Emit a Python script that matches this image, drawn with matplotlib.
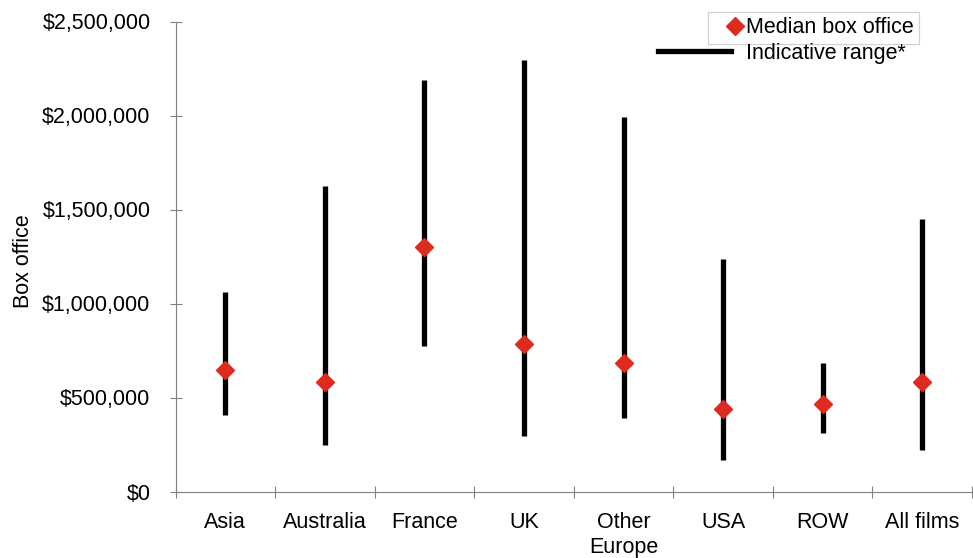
import matplotlib.pyplot as plt
from matplotlib.lines import Line2D

plt.rcParams["font.family"] = ["Liberation Sans", "DejaVu Sans"]

# Box office by region of origin
regions = ["Asia", "Australia", "France", "UK", "Other\nEurope", "USA", "ROW", "All films"]
range_low = [407000, 247000, 774000, 295000, 391000, 168000, 311000, 221000]
range_high = [1063000, 1625000, 2189000, 2295000, 1992000, 1237000, 683000, 1449000]
median = [646000, 582000, 1300000, 785000, 683000, 439000, 465000, 582000]

RED = "#DD2C1F"
AXIS_GREY = "#808080"
FS = 15.5

fig = plt.figure(figsize=(9.73, 5.58), dpi=100)
ax = fig.add_axes([175.5 / 973, 1 - 491.5 / 558, 796.5 / 973, 470 / 558])

x = list(range(len(regions)))
ax.vlines(x, range_low, range_high, color="black", linewidth=3.8, zorder=2)
ax.plot(x, median, linestyle="", marker="D", markersize=9.5,
        color=RED, markeredgecolor=RED, zorder=3)

ax.set_xlim(-0.5, len(regions) - 0.5)
ax.set_ylim(0, 2500000)
ax.set_yticks(range(0, 2500001, 500000))
ax.set_yticklabels(["${:,}".format(v) for v in range(0, 2500001, 500000)], fontsize=FS)

# category labels centred, ticks on the boundaries
ax.set_xticks(x)
ax.set_xticklabels(regions, fontsize=FS, linespacing=1.25)
ax.set_xticks([i - 0.5 for i in range(len(regions) + 1)], minor=True)
ax.tick_params(axis="x", which="major", length=0, pad=14.5)
ax.tick_params(axis="x", which="minor", direction="inout", length=9,
               width=0.8, color=AXIS_GREY)
ax.tick_params(axis="y", direction="inout", length=8, width=0.8,
               color=AXIS_GREY, pad=14)

for side in ["top", "right"]:
    ax.spines[side].set_visible(False)
for side in ["left", "bottom"]:
    ax.spines[side].set_color(AXIS_GREY)
    ax.spines[side].set_linewidth(0.8)

ax.set_ylabel("Box office", fontsize=FS)
ax.yaxis.set_label_coords(-0.1777, 0.49)

med_handle = Line2D([], [], linestyle="", marker="D", markersize=9.5,
                    color=RED, markeredgecolor=RED)
rng_handle = Line2D([], [], color="black", linewidth=3.8)

leg1 = ax.legend([med_handle], ["Median box office"], loc="upper left",
                 bbox_to_anchor=(708 / 973, 1 - 12 / 558),
                 bbox_transform=fig.transFigure, borderaxespad=0,
                 fontsize=FS, frameon=True, fancybox=False, framealpha=1,
                 edgecolor="#d0d0d0", borderpad=0.25, handlelength=2.0,
                 handletextpad=-0.5)
leg1.get_frame().set_linewidth(0.8)
ax.add_artist(leg1)

fig.legend([rng_handle], ["Indicative range*"], loc="center left",
           bbox_to_anchor=(658 / 973, 1 - 53 / 558), borderaxespad=0,
           fontsize=FS, frameon=False, handlelength=3.4, handletextpad=0.7,
           borderpad=0)

fig.savefig("out.png", dpi=100)
